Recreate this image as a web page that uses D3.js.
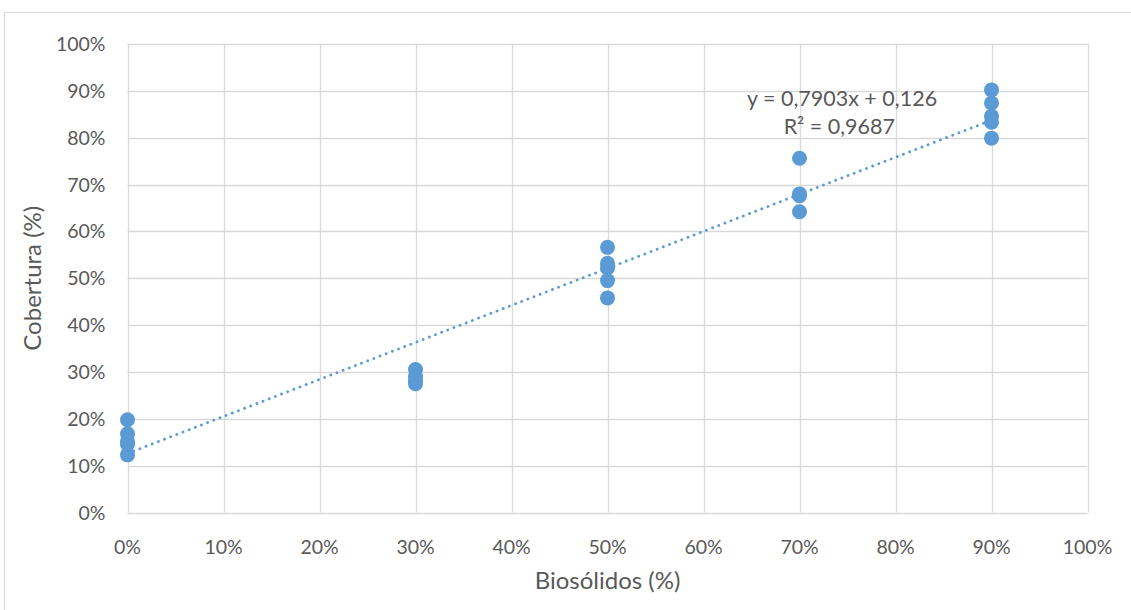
<!DOCTYPE html>
<html><head><meta charset="utf-8">
<script src="https://cdn.jsdelivr.net/npm/d3@7"></script>
<style>body{margin:0;background:#fff}svg{display:block}text{font-family:Lato,"Open Sans",sans-serif;fill:#595959}</style>
</head><body><svg id="c" width="1131" height="610"></svg>
<script>
const doses = [0, 0.3, 0.5, 0.7, 0.9];
const cover0 = [0.198, 0.168, 0.152, 0.145, 0.123];
const cover30 = [0.305, 0.29, 0.282, 0.275];
const cover50 = [0.566, 0.532, 0.522, 0.495, 0.458];
const cover70 = [0.756, 0.68, 0.676, 0.642];
const cover90 = [0.902, 0.874, 0.846, 0.833, 0.799];
const slope = 0.7903, intercept = 0.126;
const eqText = "y = 0,7903x + 0,126";
const r2Text = "R² = 0,9687";
const xTicks = [0,0.1,0.2,0.3,0.4,0.5,0.6,0.7,0.8,0.9,1];
const yTicks = [0,0.1,0.2,0.3,0.4,0.5,0.6,0.7,0.8,0.9,1];
const xTitle = "Biosólidos (%)", yTitle = "Cobertura (%)";

const groups = [cover0, cover30, cover50, cover70, cover90];
const pts = [];
groups.forEach((g,i)=>g.forEach(v=>pts.push({x:doses[i], y:v})));

const svg = d3.select("#c");
const color = "#5B9BD5";
svg.append("rect").attr("x",4.5).attr("y",12.5).attr("width",1140).attr("height",620)
  .attr("fill","none").attr("stroke","#d9d9d9");

const L=127.5,R=1087.5,T=44,B=512.5;
const x = d3.scaleLinear().domain([0,1]).range([L,R]);
const y = d3.scaleLinear().domain([0,1]).range([B,T]);
const pct = d3.format(".0%");

const g = svg.append("g");
g.selectAll("line.v").data(xTicks).join("line").attr("x1",d=>Math.round(x(d))+0.5).attr("x2",d=>Math.round(x(d))+0.5)
  .attr("y1",T).attr("y2",B).attr("stroke","#d9d9d9").attr("stroke-width",1.3);
g.selectAll("line.h").data(yTicks).join("line").attr("y1",d=>Math.round(y(d))+0.5).attr("y2",d=>Math.round(y(d))+0.5)
  .attr("x1",L).attr("x2",R).attr("stroke","#d9d9d9").attr("stroke-width",1.3);

g.selectAll("text.xt").data(xTicks).join("text").attr("x",d=>x(d)).attr("y",B+41)
  .attr("text-anchor","middle").attr("font-size",19.5).text(d=>pct(d));
g.selectAll("text.yt").data(yTicks).join("text").attr("x",L-22).attr("y",d=>y(d)+7)
  .attr("text-anchor","end").attr("font-size",19.5).text(d=>pct(d));

svg.append("text").attr("x",(L+R)/2).attr("y",589).attr("text-anchor","middle").attr("font-size",24).text(xTitle);
svg.append("text").attr("transform",`translate(41,${(T+B)/2}) rotate(-90)`).attr("text-anchor","middle").attr("font-size",24).text(yTitle);

svg.selectAll("circle").data(pts).join("circle").attr("cx",d=>x(d.x)).attr("cy",d=>y(d.y)).attr("r",7.5).attr("fill",color);

const x0 = d3.min(doses), x1 = d3.max(doses);
svg.append("line").attr("x1",x(x0)).attr("y1",y(slope*x0+intercept)).attr("x2",x(x1)).attr("y2",y(slope*x1+intercept))
  .attr("stroke",color).attr("stroke-width",2.8).attr("stroke-dasharray","0.1,6.5").attr("stroke-linecap","round");

svg.append("text").attr("x",842).attr("y",106).attr("text-anchor","middle").attr("font-size",21.5).text(eqText);
svg.append("text").attr("x",895).attr("y",134).attr("text-anchor","end").attr("font-size",21.5).text(r2Text);
</script></body></html>
